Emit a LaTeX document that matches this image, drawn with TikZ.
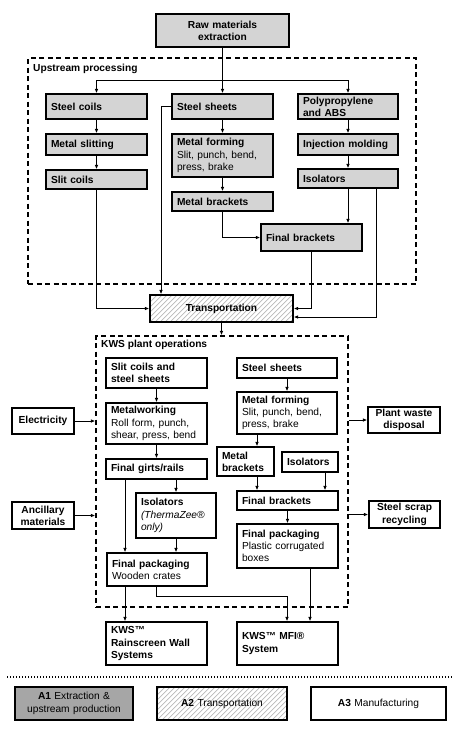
\documentclass[tikz,border=0pt]{standalone}
\usepackage{fontspec}
\setmainfont{Liberation Sans}
\usetikzlibrary{arrows.meta}
\definecolor{upgray}{RGB}{212,212,212}
\definecolor{aonegray}{RGB}{166,166,166}
\definecolor{hatchgray}{RGB}{185,185,185}
\newcommand{\myfs}{\fontsize{10.2}{12.3}\selectfont}
\newcommand{\mybox}[7]{%
  \pgfmathsetmacro{\myW}{#5-#3}%
  \pgfmathsetmacro{\myH}{#6-#4}%
  \pgfmathsetmacro{\myT}{#5-#3-10}%
  \pgfmathsetmacro{\myX}{(#3+#5)/2}%
  \pgfmathsetmacro{\myY}{(#4+#6)/2}%
  \node[#2, minimum width=\myW pt, minimum height=\myH pt, text width=\myT pt] (#1) at (\myX,\myY) {#7};}
\tikzset{
  upbox/.style={draw, line width=1.3pt, fill=upgray, font=\myfs\bfseries, align=left, inner xsep=5pt, inner ysep=0pt},
  upc/.style={upbox, align=center},
  plbox/.style={draw, line width=1.3pt, fill=white, font=\myfs\bfseries, align=left, inner xsep=5pt, inner ysep=0pt},
  plc/.style={plbox, align=center},
  region/.style={draw, line width=1.3pt, dash pattern=on 5pt off 3.5pt, inner sep=0pt},
  hatchfill/.style={path picture={\foreach \k in {0,5,...,200}{\draw[line width=0.7pt, hatchgray] ([xshift={(\k-40)*1pt}]path picture bounding box.south west) -- ++(45,-45);}}},
  legbox/.style={draw, line width=1.3pt, font=\myfs, align=center, inner xsep=5pt, inner ysep=0pt},
  lbl/.style={font=\myfs\bfseries, inner sep=0pt, anchor=west},
  arr/.style={line width=0.9pt, -{Latex[length=4.5pt,width=3.6pt]}},
  conn/.style={line width=0.9pt}
}
\begin{document}
\begin{tikzpicture}[x=1pt,y=-1pt]
\useasboundingbox (0,0) rectangle (459,732);
% regions
\mybox{upstream}{region}{28}{58}{416}{284}{}
\mybox{plant}{region}{96}{336}{348}{607}{}
\node[lbl] (uplabel) at (33,69) {Upstream processing};
\node[lbl] (plantlabel) at (101,345) {KWS plant operations};
% upstream boxes
\mybox{raw}{upc}{156}{14}{289}{47}{Raw materials\\extraction}
\mybox{coils}{upbox}{46}{94}{147}{119}{Steel coils}
\mybox{sheets}{upbox}{172}{94}{273}{119}{Steel sheets}
\mybox{poly}{upbox}{298}{94}{398}{119}{Polypropylene\\and ABS}
\mybox{slitting}{upbox}{46}{134}{147}{155}{Metal slitting}
\mybox{mform}{upbox}{172}{134}{273}{177}{Metal forming\\\mdseries Slit, punch, bend,\\press, brake}
\mybox{inj}{upbox}{298}{134}{398}{155}{Injection molding}
\mybox{slitc}{upbox}{46}{170}{147}{189}{Slit coils}
\mybox{iso}{upbox}{298}{169}{398}{188}{Isolators}
\mybox{mbr}{upbox}{172}{192}{273}{211}{Metal brackets}
\mybox{fbr}{upbox}{261}{224}{362}{251}{Final brackets}
\mybox{transport}{plc,hatchfill}{150}{295}{293}{322}{Transportation}
% plant boxes
\mybox{scs}{plbox}{106}{358}{207}{388}{Slit coils and\\steel sheets}
\mybox{mwork}{plbox}{106}{403}{207}{444}{Metalworking\\\mdseries Roll form, punch,\\shear, press, bend}
\mybox{girts}{plbox}{106}{459}{207}{479}{Final girts/rails}
\mybox{tziso}{plbox}{136}{493}{216}{538}{Isolators\\\mdseries\itshape (ThermaZee®\\only)}
\mybox{fpackL}{plbox}{107}{553}{207}{586}{Final packaging\\\mdseries Wooden crates}
\mybox{sheetsR}{plbox}{237}{358}{337}{378}{Steel sheets}
\mybox{mformR}{plbox}{237}{392}{337}{434}{Metal forming\\\mdseries Slit, punch, bend,\\press, brake}
\mybox{mbrR}{plbox}{217}{447}{274}{476}{Metal\\brackets}
\mybox{isoR}{plbox}{282}{452}{338}{472}{Isolators}
\mybox{fbrR}{plbox}{237}{491}{338}{510}{Final brackets}
\mybox{fpackR}{plbox}{237}{524}{338}{568}{Final packaging\\\mdseries Plastic corrugated\\boxes}
\mybox{elec}{plc}{12}{408}{74}{434}{Electricity}
\mybox{anc}{plc}{12}{502}{74}{529}{Ancillary\\materials}
\mybox{waste}{plc}{368}{407}{440}{433}{Plant waste\\disposal}
\mybox{scrap}{plc}{369}{501}{440}{528}{Steel scrap\\recycling}
\mybox{rain}{plbox}{106}{622}{207}{665}{KWS™\\Rainscreen Wall\\Systems}
\mybox{mfi}{plbox}{237}{622}{338}{665}{KWS™ MFI®\\System}
% legend
\draw[line width=1.3pt, dash pattern=on 1.3pt off 1.7pt] (7,677) -- (452,677);
\mybox{leg1}{legbox,fill=aonegray}{15}{687}{133}{720}{\textbf{A1} Extraction \&\\upstream production}
\mybox{leg2}{legbox,fill=white,hatchfill}{157}{687}{287}{720}{\textbf{A2} Transportation}
\mybox{leg3}{legbox,fill=white}{311}{687}{446}{720}{\textbf{A3} Manufacturing}
% upstream connectors
\coordinate (bus) at (0,80);
\draw[arr] (raw) -- (sheets);
\draw[conn] (coils.north |- bus) -- (poly.north |- bus);
\draw[arr] (coils.north |- bus) -- (coils.north);
\draw[arr] (poly.north |- bus) -- (poly.north);
\draw[arr] (coils) -- (slitting);
\draw[arr] (slitting) -- (slitc);
\draw[arr] (sheets) -- (mform);
\draw[arr] (mform) -- (mbr);
\draw[arr] (poly) -- (inj);
\draw[arr] (inj) -- (iso);
\draw[arr] (mbr.south) |- (fbr.west);
\draw[arr] (iso.south) -- (iso.south |- fbr.north);
\coordinate (xA) at (161,0);
\draw[arr] (sheets.west) -| (transport.north -| xA);
\draw[arr] (slitc.south) |- (transport.west);
\draw[arr] (fbr.south) |- (transport.east);
\coordinate (xB) at (376,317);
\draw[arr] (iso.south -| xB) |- (transport.east |- xB);
\draw[arr] (transport.south) -- (transport.south |- plant.north);
% plant connectors
\draw[arr] (scs) -- (mwork);
\draw[arr] (mwork) -- (girts);
\draw[arr] (girts.south -| tziso.north) -- (tziso.north);
\coordinate (xC) at (125,0);
\draw[arr] (girts.south -| xC) -- (fpackL.north -| xC);
\draw[arr] (tziso.south) -- (tziso.south |- fpackL.north);
\draw[arr] (sheetsR) -- (mformR);
\coordinate (xD) at (257,0);
\draw[arr] (mformR.south -| xD) -- (mbrR.north -| xD);
\draw[arr] (mbrR.south -| xD) -- (fbrR.north -| xD);
\coordinate (xE) at (325,0);
\draw[arr] (isoR.south -| xE) -- (fbrR.north -| xE);
\draw[arr] (fbrR) -- (fpackR);
\draw[arr] (fpackL.south -| xC) -- (rain.north -| xC);
\coordinate (xF) at (156,596);
\coordinate (xG) at (287,0);
\draw[arr] (fpackL.south -| xF) |- (xG |- xF) -- (mfi.north -| xG);
\coordinate (xH) at (310,0);
\draw[arr] (fpackR.south -| xH) -- (mfi.north -| xH);
\draw[arr] (elec) -- (elec -| plant.west);
\draw[arr] (anc) -- (anc -| plant.west);
\draw[arr] (plant.east |- waste) -- (waste);
\draw[arr] (plant.east |- scrap) -- (scrap);
\end{tikzpicture}
\end{document}
